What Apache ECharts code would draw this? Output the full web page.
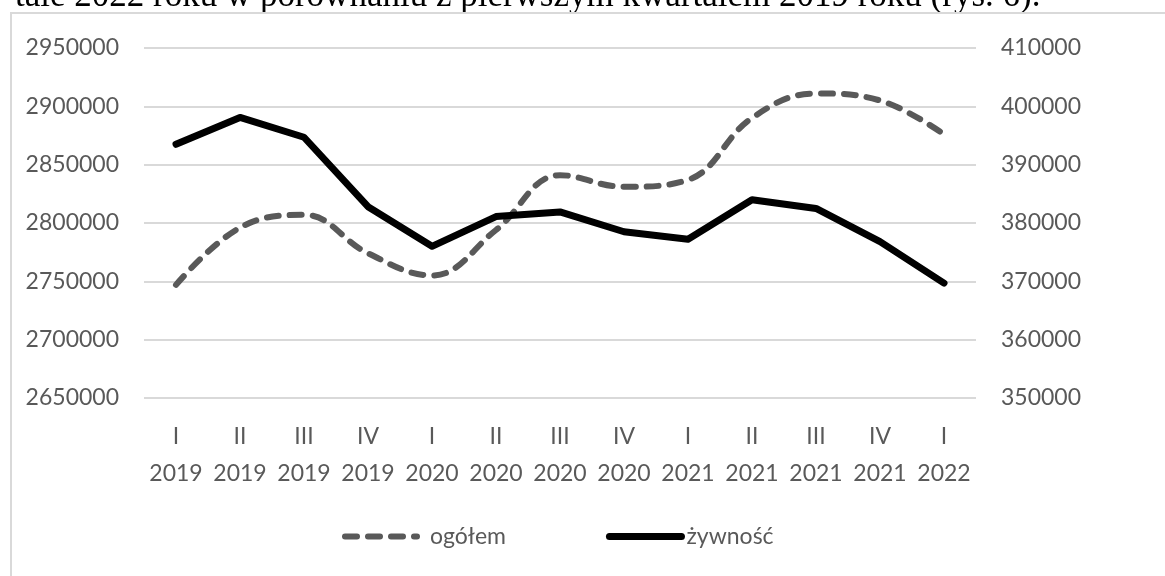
<!DOCTYPE html>
<html>
<head>
<meta charset="utf-8">
<script src="https://cdn.jsdelivr.net/npm/echarts@6/dist/echarts.min.js"></script>
<style>
  html, body { margin: 0; padding: 0; background: #ffffff; }
  #chart { width: 1165px; height: 576px; }
</style>
</head>
<body>
<div id="chart"></div>
<script>
// ---- data ----
var quarters = ['I', 'II', 'III', 'IV', 'I', 'II', 'III', 'IV', 'I', 'II', 'III', 'IV', 'I'];
var years = ['2019', '2019', '2019', '2019', '2020', '2020', '2020', '2020', '2021', '2021', '2021', '2021', '2022'];
var ogolem = [2747000, 2796000, 2807000, 2774000, 2755000, 2794000, 2841000, 2831000, 2837000, 2890000, 2911000, 2905000, 2876000];
var zywnosc = [393500, 398100, 394700, 382800, 376000, 381100, 381900, 378500, 377200, 384000, 382500, 376800, 369700];
var leftTicks = { min: 2650000, max: 2950000, interval: 50000 };
var rightTicks = { min: 350000, max: 410000, interval: 10000 };
var seriesNames = ['ogółem', 'żywność'];
var captionText = 'tale 2022 roku w porównaniu z pierwszym kwartałem 2019 roku (rys. 6).';

var categories = quarters.map(function (q, i) { return q + '\n' + years[i]; });

var FONT = "Lato, 'Noto Sans', sans-serif";
var FS = 23;
var TXT = '#595959';
var plain = function (v) { return String(v); };

var chart = echarts.init(document.getElementById('chart'), null, { renderer: 'canvas' });
chart.setOption({
  backgroundColor: '#ffffff',
  animation: false,
  graphic: [
    {
      type: 'text',
      z: -20,
      style: {
        x: 15, y: -3,
        text: captionText,
        font: '35px "Liberation Serif", "Times New Roman", serif',
        fill: '#000000',
        verticalAlign: 'middle',
        align: 'left'
      }
    },
    {
      type: 'rect',
      z: -10,
      shape: { x: 11, y: 13, width: 1170, height: 580 },
      style: { fill: '#ffffff', stroke: '#d9d9d9', lineWidth: 2 }
    }
  ],
  grid: { left: 144, right: 189, top: 48, bottom: 178, containLabel: false },
  legend: {
    data: [
      {
        name: seriesNames[0],
        lineStyle: { width: 6, type: [12, 11], cap: 'round', color: '#595959' },
        textStyle: { padding: [0, 0, 0, 8] }
      },
      {
        name: seriesNames[1],
        lineStyle: { width: 7, type: 'solid', cap: 'round', color: '#000000' }
      }
    ],
    top: 520,
    left: 337,
    itemWidth: 72,
    itemHeight: 8,
    itemGap: 100,
    textStyle: { fontFamily: FONT, fontSize: FS, color: TXT },
    itemStyle: { opacity: 0 }
  },
  xAxis: {
    type: 'category',
    data: categories,
    boundaryGap: true,
    axisLine: { show: false },
    axisTick: { show: false },
    axisLabel: {
      fontFamily: FONT, fontSize: FS, color: TXT, lineHeight: 37, margin: 20, interval: 0
    }
  },
  yAxis: [
    {
      type: 'value',
      min: leftTicks.min, max: leftTicks.max, interval: leftTicks.interval,
      position: 'left',
      axisLine: { show: false },
      axisTick: { show: false },
      splitLine: { lineStyle: { color: '#d9d9d9', width: 2 } },
      axisLabel: { fontFamily: FONT, fontSize: FS, color: TXT, margin: 25, formatter: plain }
    },
    {
      type: 'value',
      min: rightTicks.min, max: rightTicks.max, interval: rightTicks.interval,
      position: 'right',
      axisLine: { show: false },
      axisTick: { show: false },
      splitLine: { show: false },
      axisLabel: { fontFamily: FONT, fontSize: FS, color: TXT, margin: 25, formatter: plain }
    }
  ],
  series: [
    {
      name: seriesNames[0],
      type: 'line',
      yAxisIndex: 0,
      data: ogolem,
      smooth: 0.4,
      symbol: 'none',
      lineStyle: { color: '#595959', width: 6, type: [12, 11], cap: 'round', join: 'round' },
      itemStyle: { color: '#595959' },
      z: 3
    },
    {
      name: seriesNames[1],
      type: 'line',
      yAxisIndex: 1,
      data: zywnosc,
      smooth: false,
      symbol: 'none',
      lineStyle: { color: '#000000', width: 7, cap: 'round', join: 'round' },
      itemStyle: { color: '#000000' },
      z: 4
    }
  ]
});
</script>
</body>
</html>
